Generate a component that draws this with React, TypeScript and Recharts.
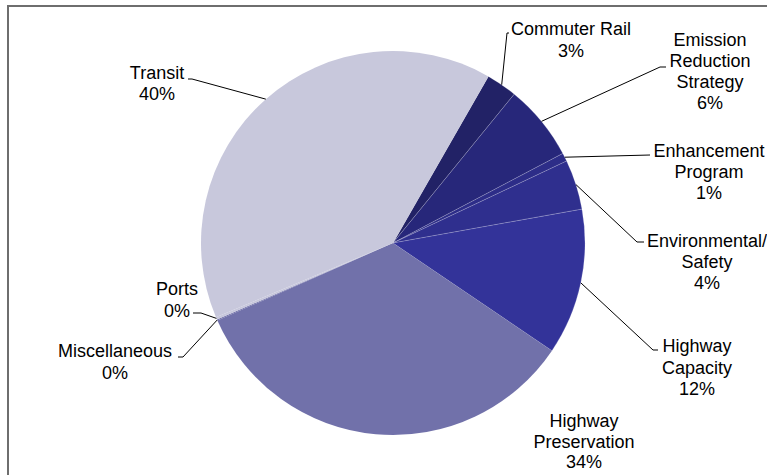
import React from 'react';
import { PieChart, Pie, Cell } from 'recharts';

const CATEGORIES = [
  'Commuter Rail',
  'Emission\nReduction\nStrategy',
  'Enhancement\nProgram',
  'Environmental/\nSafety',
  'Highway\nCapacity',
  'Highway\nPreservation',
  'Miscellaneous',
  'Ports',
  'Transit',
];
const SHARES = [2.6, 6.4, 0.7, 4.2, 12.3, 33.9, 0.1, 0.2, 39.6];
const COLORS = ['#222266', '#27277a', '#2d2d88', '#2f2f8e', '#333399', '#7171aa', '#7171aa', '#c8c8dc', '#c8c8dc'];

const DATA = CATEGORIES.map((name, i) => ({ name, value: SHARES[i] }));

// label layout: text centre x, first baseline, line gap, leader elbow and end
const LABEL_LAYOUT = [
  { x: 571, y: 35, gap: 22, pts: [[507, 33], [509, 33]] },
  { x: 710, y: 46, gap: 21, pts: [[660, 67], [666, 67]] },
  { x: 709, y: 157, gap: 21, pts: [[650, 155]] },
  { x: 707, y: 247, gap: 21, pts: [[637, 242], [644, 242]] },
  { x: 697, y: 352, gap: 21.5, pts: [[653, 350], [658, 350]] },
  { x: 584, y: 427, gap: 20.5, pts: [] },
  { x: 115, y: 357, gap: 22, pts: [[183, 357], [178, 357]] },
  { x: 177, y: 295, gap: 22, pts: [[201, 313], [193, 313]] },
  { x: 157, y: 79, gap: 21, pts: [[192, 79], [188, 79]] },
];

const RAD = Math.PI / 180;

const renderLabel = (props: any) => {
  const { cx, cy, midAngle, outerRadius, index, percent, name } = props;
  const lay = LABEL_LAYOUT[index];
  const lines = String(name).split('\n');
  lines.push(`${Math.round(percent * 100)}%`);
  const sx = cx + outerRadius * Math.cos(-midAngle * RAD);
  const sy = cy + outerRadius * Math.sin(-midAngle * RAD);
  const path = lay.pts.length
    ? `M${sx},${sy}` + lay.pts.map((p) => `L${p[0]},${p[1]}`).join('')
    : '';
  return (
    <g key={`lbl-${index}`}>
      {path && <path d={path} stroke="#000" strokeWidth={1} fill="none" />}
      {lines.map((t, i) => (
        <text
          key={i}
          x={lay.x}
          y={lay.y + i * lay.gap}
          textAnchor="middle"
          fill="#000"
          fontSize={18}
          fontFamily="'Liberation Sans', Arial, sans-serif"
        >
          {t}
        </text>
      ))}
    </g>
  );
};

export default function App() {
  return (
    <div style={{ position: 'fixed', left: 0, top: 0, width: 767, height: 475, overflow: 'hidden', background: '#fff' }}>
      <div
        style={{
          position: 'absolute',
          left: 7,
          top: 5,
          width: 820,
          height: 520,
          border: '2px solid #6e6e6e',
          boxSizing: 'border-box',
        }}
      />
      <div style={{ position: 'absolute', left: 0, top: 0 }}>
        <PieChart width={767} height={475} margin={{ top: 0, right: 0, bottom: 0, left: 0 }}>
          <Pie
            data={DATA}
            dataKey="value"
            nameKey="name"
            cx={393}
            cy={243}
            outerRadius={192}
            startAngle={60.2}
            endAngle={-299.8}
            strokeWidth={0.8}
            label={renderLabel}
            labelLine={false}
            isAnimationActive={false}
          >
            {DATA.map((d, i) => (
              <Cell key={d.name} fill={COLORS[i]} stroke={i < 5 ? 'rgba(255,255,255,0.22)' : 'none'} />
            ))}
          </Pie>
        </PieChart>
      </div>
    </div>
  );
}
